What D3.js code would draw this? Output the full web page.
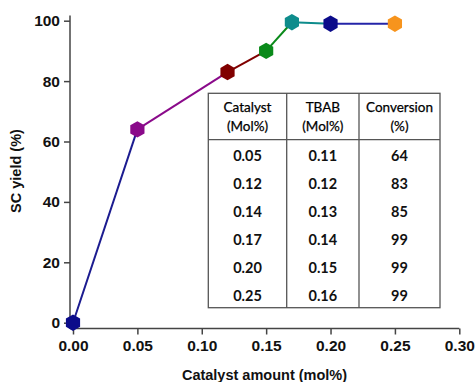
<!DOCTYPE html>
<html>
<head>
<meta charset="utf-8">
<script src="https://cdn.jsdelivr.net/npm/d3@7"></script>
<style>
  body { margin: 0; background: #fff; }
  svg { display: block; }
  .tick text { font-family: Arial, "Liberation Sans", sans-serif; font-weight: bold; font-size: 15.5px; fill: #111; }
</style>
</head>
<body>
<div id="chart"></div>
<script>
// data
const catalyst = [0, 0.05, 0.12, 0.15, 0.17, 0.20, 0.25];
const scYield = [0, 64, 83, 90, 99.5, 99, 99];
const pointColors = ["#0b0b8a", "#8a0a8a", "#800000", "#0a8a1a", "#0e8c8c", "#0b0b8a", "#f7941d"];
const segColors = ["#1c1c90", "#8a0a8a", "#800000", "#0a8a1a", "#0e8c8c", "#2424a8"];
const xTicks = [0, 0.05, 0.10, 0.15, 0.20, 0.25, 0.30];
const yTicks = [0, 20, 40, 60, 80, 100];

const tableHead = [["Catalyst", "(Mol%)"], ["TBAB", "(Mol%)"], ["Conversion", "(%)"]];
const tabCatalyst = ["0.05", "0.12", "0.14", "0.17", "0.20", "0.25"];
const tabTbab = ["0.11", "0.12", "0.13", "0.14", "0.15", "0.16"];
const tabConv = ["64", "83", "85", "99", "99", "99"];

const width = 475, height = 382;

const svg = d3.select("#chart").append("svg")
  .attr("width", width)
  .attr("height", height);

const x = d3.scaleLinear().domain([0, 0.30]).range([73, 459.3]);
const y = d3.scaleLinear().domain([0, 100]).range([322.7, 20.7]);

const axisX = 70, axisY = 328.5;

// x axis
svg.append("g")
  .attr("transform", "translate(0," + axisY + ")")
  .call(d3.axisBottom(x).tickValues(xTicks).tickFormat(d3.format(".2f")).tickSize(6).tickSizeOuter(0).tickPadding(5))
  .call(g => g.select(".domain").remove())
  .call(g => g.selectAll(".tick line").attr("stroke", "#444").attr("stroke-width", 1.5));

// y axis
svg.append("g")
  .attr("transform", "translate(" + axisX + ",0)")
  .call(d3.axisLeft(y).tickValues(yTicks).tickSize(6).tickSizeOuter(0).tickPadding(4))
  .call(g => g.select(".domain").remove())
  .call(g => g.selectAll(".tick line").attr("stroke", "#444").attr("stroke-width", 1.5));

// axis lines
svg.append("line").attr("x1", axisX).attr("x2", x(0.30)).attr("y1", axisY).attr("y2", axisY)
  .attr("stroke", "#444").attr("stroke-width", 1.5);
svg.append("line").attr("x1", axisX).attr("x2", axisX).attr("y1", 15.5).attr("y2", axisY)
  .attr("stroke", "#444").attr("stroke-width", 1.5);

// axis titles
svg.append("text")
  .attr("x", 264.5).attr("y", 380)
  .attr("text-anchor", "middle")
  .style("font-family", "Arial, 'Liberation Sans', sans-serif")
  .style("font-weight", "bold").style("font-size", "14.5px").style("fill", "#111")
  .text("Catalyst amount (mol%)");

svg.append("text")
  .attr("transform", "translate(21,171) rotate(-90)")
  .attr("text-anchor", "middle")
  .style("font-family", "Arial, 'Liberation Sans', sans-serif")
  .style("font-weight", "bold").style("font-size", "14.5px").style("fill", "#111")
  .text("SC yield (%)");

// line segments
const pts = catalyst.map((c, i) => ({ x: c, y: scYield[i], color: pointColors[i] }));
svg.append("g")
  .selectAll("line")
  .data(pts.slice(0, -1))
  .join("line")
  .attr("x1", d => x(d.x))
  .attr("y1", d => y(d.y))
  .attr("x2", (d, i) => x(pts[i + 1].x))
  .attr("y2", (d, i) => y(pts[i + 1].y))
  .attr("stroke", (d, i) => segColors[i])
  .attr("stroke-width", 2);

// hexagon markers
const hexR = 8.2;
const hexPath = d3.line()(d3.range(6).map(k => {
  const a = Math.PI / 3 * k - Math.PI / 2;
  return [hexR * Math.cos(a), hexR * Math.sin(a)];
})) + "Z";

svg.append("g")
  .selectAll("path")
  .data(pts)
  .join("path")
  .attr("d", hexPath)
  .attr("transform", d => "translate(" + x(d.x) + "," + y(d.y) + ")")
  .attr("fill", d => d.color);

// inset table
const tLeft = 208.3, tTop = 93.3;
const colW = [78.4, 72.3, 81];
const headH = 46.4, rowH = 28;
const tW = d3.sum(colW);
const tH = headH + rowH * tabCatalyst.length;
const table = svg.append("g").attr("transform", "translate(" + tLeft + "," + tTop + ")");

table.append("rect")
  .attr("width", tW).attr("height", tH)
  .attr("fill", "#fff").attr("stroke", "#555").attr("stroke-width", 1.3);

const colX = [0, colW[0], colW[0] + colW[1]];
table.selectAll(".vdiv")
  .data(colX.slice(1))
  .join("line")
  .attr("x1", d => d).attr("x2", d => d)
  .attr("y1", 0).attr("y2", tH)
  .attr("stroke", "#555").attr("stroke-width", 1.3);

table.append("line")
  .attr("x1", 0).attr("x2", tW).attr("y1", headH).attr("y2", headH)
  .attr("stroke", "#555").attr("stroke-width", 1.3);

tableHead.forEach((lines, ci) => {
  lines.forEach((t, li) => {
    table.append("text")
      .attr("x", colX[ci] + colW[ci] / 2)
      .attr("y", 18.5 + li * 19.5)
      .attr("text-anchor", "middle")
      .style("font-family", "Lato, 'Open Sans', sans-serif")
      .style("font-size", "13.5px").style("fill", "#000")
      .style("stroke", "#000").style("stroke-width", 0.25)
      .text(t);
  });
});

[tabCatalyst, tabTbab, tabConv].forEach((col, ci) => {
  table.selectAll(".c" + ci)
    .data(col)
    .join("text")
    .attr("x", colX[ci] + colW[ci] / 2)
    .attr("y", (d, i) => headH + 21 + i * rowH)
    .attr("text-anchor", "middle")
    .style("font-family", "Lato, 'Open Sans', sans-serif")
    .style("font-weight", "bold")
    .style("font-size", "14.5px").style("fill", "#111")
    .text(d => d);
});
</script>
</body>
</html>
